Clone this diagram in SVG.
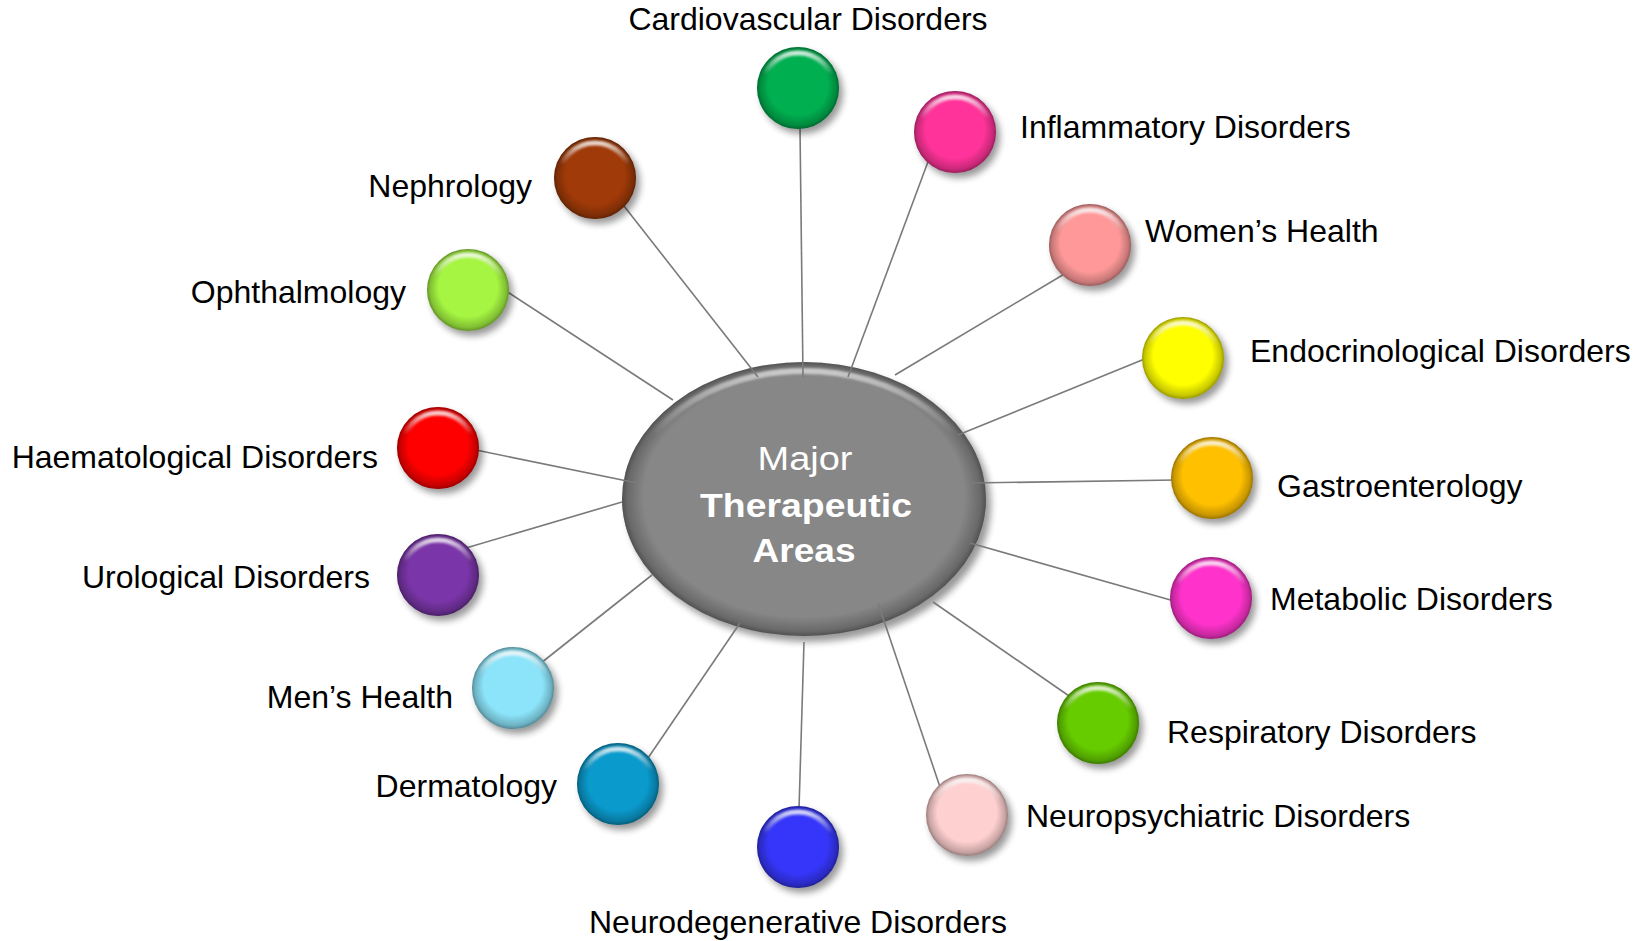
<svg xmlns="http://www.w3.org/2000/svg" width="1651" height="941" viewBox="0 0 1651 941">
<style>
  .lbl { font-family: "Liberation Sans", Arial, sans-serif; font-size: 32px; fill: #000; }
  .ctr { font-family: "Liberation Sans", Arial, sans-serif; font-size: 34px; fill: #fff; }
  .sh { fill: #000; opacity: 0.4; filter: url(#blur); }
  .dk { fill: url(#rimDark); }
  .hl { fill: none; stroke: url(#hlG); stroke-width: 5; filter: url(#soft); }
  .conn line { stroke: #7a7a7a; stroke-width: 1.6; }
</style>
<defs>
  <filter id="blur" x="-40%" y="-40%" width="180%" height="180%"><feGaussianBlur stdDeviation="3.5"/></filter>
  <filter id="soft" x="-20%" y="-20%" width="140%" height="140%"><feGaussianBlur stdDeviation="1.2"/></filter>
  <radialGradient id="rimDark" cx="0.5" cy="0.5" r="0.5" fx="0.5" fy="0.38">
    <stop offset="0.72" stop-color="#000" stop-opacity="0"/>
    <stop offset="0.93" stop-color="#000" stop-opacity="0.22"/>
    <stop offset="1" stop-color="#000" stop-opacity="0.4"/>
  </radialGradient>
  <linearGradient id="hlG" x1="0" y1="0" x2="0" y2="1">
    <stop offset="0" stop-color="#fff" stop-opacity="0.8"/>
    <stop offset="0.3" stop-color="#fff" stop-opacity="0"/>
  </linearGradient>
  <radialGradient id="ellDark" cx="0.5" cy="0.5" r="0.5" fx="0.5" fy="0.42">
    <stop offset="0.88" stop-color="#000" stop-opacity="0"/>
    <stop offset="0.97" stop-color="#000" stop-opacity="0.22"/>
    <stop offset="1" stop-color="#000" stop-opacity="0.4"/>
  </radialGradient>
  <linearGradient id="ellHl" x1="0" y1="0" x2="0" y2="1">
    <stop offset="0" stop-color="#fff" stop-opacity="0.6"/>
    <stop offset="0.25" stop-color="#fff" stop-opacity="0"/>
  </linearGradient>
</defs>
<rect width="1651" height="941" fill="#fff"/>

<g id="center">
  <ellipse class="sh" cx="809" cy="505" rx="182" ry="137"/>
  <ellipse cx="804" cy="499" rx="182" ry="137" fill="#878787"/>
  <ellipse cx="804" cy="499" rx="182" ry="137" fill="url(#ellDark)"/>
  <ellipse cx="804" cy="501" rx="175" ry="130" fill="none" stroke="url(#ellHl)" stroke-width="6" filter="url(#soft)"/>
  <text class="ctr" x="805" y="470" text-anchor="middle" textLength="95" lengthAdjust="spacingAndGlyphs">Major</text>
  <text class="ctr" x="806" y="517" text-anchor="middle" font-weight="bold" textLength="212" lengthAdjust="spacingAndGlyphs">Therapeutic</text>
  <text class="ctr" x="804" y="562" text-anchor="middle" font-weight="bold" textLength="103" lengthAdjust="spacingAndGlyphs">Areas</text>
</g>

<g id="connectors" class="conn">
  <line x1="800" y1="128" x2="803" y2="377"/>
  <line x1="929" y1="159" x2="848" y2="377"/>
  <line x1="624" y1="206" x2="758" y2="377"/>
  <line x1="1066" y1="273" x2="895" y2="375"/>
  <line x1="506" y1="291" x2="673" y2="400"/>
  <line x1="1147" y1="358" x2="958" y2="435"/>
  <line x1="476" y1="450" x2="637" y2="483"/>
  <line x1="1176" y1="480" x2="970" y2="483"/>
  <line x1="466" y1="548" x2="622" y2="502"/>
  <line x1="1174" y1="601" x2="970" y2="543"/>
  <line x1="541" y1="663" x2="652" y2="575"/>
  <line x1="1072" y1="698" x2="933" y2="602"/>
  <line x1="648" y1="758" x2="740" y2="623"/>
  <line x1="799" y1="809" x2="804" y2="642"/>
  <line x1="941" y1="790" x2="878" y2="603"/>
</g>

<g id="cardiovascular" transform="translate(798,88)">
  <circle class="sh" cx="4" cy="5" r="41"/><circle r="41" fill="#00B050"/><circle class="dk" r="41"/><circle class="hl" cy="1" r="36"/>
</g>
<text class="lbl" x="808" y="30" text-anchor="middle">Cardiovascular Disorders</text>

<g id="inflammatory" transform="translate(955,132)">
  <circle class="sh" cx="4" cy="5" r="41"/><circle r="41" fill="#FF3399"/><circle class="dk" r="41"/><circle class="hl" cy="1" r="36"/>
</g>
<text class="lbl" x="1020" y="138">Inflammatory Disorders</text>

<g id="nephrology" transform="translate(595,178)">
  <circle class="sh" cx="4" cy="5" r="41"/><circle r="41" fill="#A03A08"/><circle class="dk" r="41"/><circle class="hl" cy="1" r="36"/>
</g>
<text class="lbl" x="532" y="197" text-anchor="end">Nephrology</text>

<g id="womens-health" transform="translate(1090,245)">
  <circle class="sh" cx="4" cy="5" r="41"/><circle r="41" fill="#FF9999"/><circle class="dk" r="41"/><circle class="hl" cy="1" r="36"/>
</g>
<text class="lbl" x="1145" y="242">Women’s Health</text>

<g id="ophthalmology" transform="translate(468,290)">
  <circle class="sh" cx="4" cy="5" r="41"/><circle r="41" fill="#A5F542"/><circle class="dk" r="41"/><circle class="hl" cy="1" r="36"/>
</g>
<text class="lbl" x="406" y="303" text-anchor="end">Ophthalmology</text>

<g id="endocrinological" transform="translate(1183,358)">
  <circle class="sh" cx="4" cy="5" r="41"/><circle r="41" fill="#FFFF00"/><circle class="dk" r="41"/><circle class="hl" cy="1" r="36"/>
</g>
<text class="lbl" x="1250" y="362">Endocrinological Disorders</text>

<g id="haematological" transform="translate(438,448)">
  <circle class="sh" cx="4" cy="5" r="41"/><circle r="41" fill="#FF0000"/><circle class="dk" r="41"/><circle class="hl" cy="1" r="36"/>
</g>
<text class="lbl" x="378" y="468" text-anchor="end">Haematological Disorders</text>

<g id="gastroenterology" transform="translate(1212,478)">
  <circle class="sh" cx="4" cy="5" r="41"/><circle r="41" fill="#FFC000"/><circle class="dk" r="41"/><circle class="hl" cy="1" r="36"/>
</g>
<text class="lbl" x="1277" y="497">Gastroenterology</text>

<g id="urological" transform="translate(438,575)">
  <circle class="sh" cx="4" cy="5" r="41"/><circle r="41" fill="#7A35A8"/><circle class="dk" r="41"/><circle class="hl" cy="1" r="36"/>
</g>
<text class="lbl" x="370" y="588" text-anchor="end">Urological Disorders</text>

<g id="metabolic" transform="translate(1211,598)">
  <circle class="sh" cx="4" cy="5" r="41"/><circle r="41" fill="#FF33CC"/><circle class="dk" r="41"/><circle class="hl" cy="1" r="36"/>
</g>
<text class="lbl" x="1270" y="610">Metabolic Disorders</text>

<g id="mens-health" transform="translate(513,688)">
  <circle class="sh" cx="4" cy="5" r="41"/><circle r="41" fill="#8CE4FA"/><circle class="dk" r="41"/><circle class="hl" cy="1" r="36"/>
</g>
<text class="lbl" x="453" y="708" text-anchor="end">Men’s Health</text>

<g id="respiratory" transform="translate(1098,723)">
  <circle class="sh" cx="4" cy="5" r="41"/><circle r="41" fill="#66CC00"/><circle class="dk" r="41"/><circle class="hl" cy="1" r="36"/>
</g>
<text class="lbl" x="1167" y="743">Respiratory Disorders</text>

<g id="dermatology" transform="translate(618,784)">
  <circle class="sh" cx="4" cy="5" r="41"/><circle r="41" fill="#0A9ACC"/><circle class="dk" r="41"/><circle class="hl" cy="1" r="36"/>
</g>
<text class="lbl" x="557" y="797" text-anchor="end">Dermatology</text>

<g id="neurodegenerative" transform="translate(798,847)">
  <circle class="sh" cx="4" cy="5" r="41"/><circle r="41" fill="#3636FA"/><circle class="dk" r="41"/><circle class="hl" cy="1" r="36"/>
</g>
<text class="lbl" x="798" y="933" text-anchor="middle">Neurodegenerative Disorders</text>

<g id="neuropsychiatric" transform="translate(967,815)">
  <circle class="sh" cx="4" cy="5" r="41"/><circle r="41" fill="#FFD0D0"/><circle class="dk" r="41"/><circle class="hl" cy="1" r="36"/>
</g>
<text class="lbl" x="1026" y="827">Neuropsychiatric Disorders</text>
</svg>
